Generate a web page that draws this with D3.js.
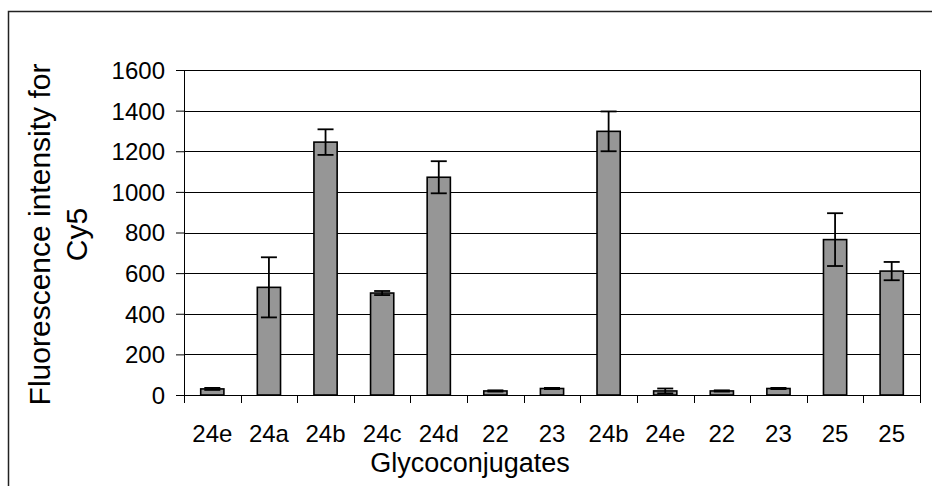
<!DOCTYPE html>
<html>
<head>
<meta charset="utf-8">
<script src="https://cdn.jsdelivr.net/npm/d3@7"></script>
<style>
  body { margin: 0; background: #fff; }
  svg text { font-family: "Liberation Sans", Arial, sans-serif; fill: #000; }
</style>
</head>
<body>
<div id="chart"></div>
<script>
"use strict";

// data
var labels = ["24e", "24a", "24b", "24c", "24d", "22", "23", "24b", "24e", "22", "23", "25", "25"];
var values = [30, 530, 1245, 502, 1072, 20, 32, 1298, 20, 20, 32, 765, 610];
var errors = [5, 148, 63, 10, 79, 3, 3, 98, 12, 3, 3, 130, 45];
var yTicks = [0, 200, 400, 600, 800, 1000, 1200, 1400, 1600];

var W = 932, H = 486;
var margin = { top: 70, right: 12, bottom: 91, left: 184 };
var w = W - margin.left - margin.right,
    h = H - margin.top - margin.bottom;

var svg = d3.select("#chart").append("svg")
    .attr("width", W)
    .attr("height", H);

// outer chart border (runs off right and bottom edge)
svg.append("rect")
    .attr("x", 8.5).attr("y", 11.5)
    .attr("width", W + 10).attr("height", H + 10)
    .attr("fill", "none")
    .attr("stroke", "#222")
    .attr("stroke-width", 1.5);

var g = svg.append("g")
    .attr("transform", "translate(" + margin.left + "," + margin.top + ")");

var idx = d3.range(labels.length);
var x = d3.scaleBand().domain(idx).range([0, w]).padding(0);
var y = d3.scaleLinear().domain([0, 1600]).range([h, 0]);
var barW = x.bandwidth() * 0.41;

// gridlines
g.append("g")
    .selectAll("line").data(yTicks.slice(1))
    .join("line")
      .attr("x1", 0).attr("x2", w)
      .attr("y1", d => Math.round(y(d)) + 0.5)
      .attr("y2", d => Math.round(y(d)) + 0.5)
      .attr("stroke", "#000")
      .attr("stroke-width", 1);

// plot area border
g.append("rect")
    .attr("x", 0.5).attr("y", 0.5)
    .attr("width", w).attr("height", h)
    .attr("fill", "none")
    .attr("stroke", "#000")
    .attr("stroke-width", 1);

// y axis
var yAxis = d3.axisLeft(y).tickValues(yTicks).tickFormat(d3.format("d"))
    .tickSize(8).tickPadding(11);
var ya = g.append("g").attr("class", "yaxis").call(yAxis);
ya.select(".domain").attr("stroke", "#000");
ya.selectAll(".tick line").attr("stroke", "#000");
ya.selectAll(".tick text")
    .style("font-size", "24px")
    .attr("dy", "0.35em");

// bars
g.append("g").selectAll("rect").data(idx)
  .join("rect")
    .attr("x", i => x(i) + (x.bandwidth() - barW) / 2)
    .attr("y", i => y(values[i]))
    .attr("width", barW)
    .attr("height", i => h - y(values[i]))
    .attr("fill", "#969696")
    .attr("stroke", "#000")
    .attr("stroke-width", 1.6);

// error bars
var err = g.append("g").attr("stroke", "#000").attr("stroke-width", 1.8);
idx.forEach(function(i) {
  var cx = x(i) + x.bandwidth() / 2;
  var top = y(values[i] + errors[i]), bot = y(values[i] - errors[i]);
  err.append("line").attr("x1", cx).attr("x2", cx).attr("y1", top).attr("y2", bot);
  err.append("line").attr("x1", cx - 8).attr("x2", cx + 8).attr("y1", top).attr("y2", top);
  err.append("line").attr("x1", cx - 8).attr("x2", cx + 8).attr("y1", bot).attr("y2", bot);
});

// x axis with ticks on category boundaries
g.append("line")
    .attr("x1", 0).attr("x2", w)
    .attr("y1", h + 0.5).attr("y2", h + 0.5)
    .attr("stroke", "#000");
g.append("g").selectAll("line").data(idx.concat([labels.length]))
  .join("line")
    .attr("x1", i => Math.round(i < labels.length ? x(i) : w) + 0.5)
    .attr("x2", i => Math.round(i < labels.length ? x(i) : w) + 0.5)
    .attr("y1", h).attr("y2", h + 8)
    .attr("stroke", "#000");
g.append("g").selectAll("text").data(idx)
  .join("text")
    .attr("x", i => x(i) + x.bandwidth() / 2)
    .attr("y", h + 46.5)
    .attr("text-anchor", "middle")
    .style("font-size", "24px")
    .text(i => labels[i]);

// axis titles
svg.append("text")
    .attr("x", 470)
    .attr("y", 472)
    .attr("text-anchor", "middle")
    .style("font-size", "27px")
    .text("Glycoconjugates");

var yt = svg.append("text")
    .attr("transform", "translate(50,234.5) rotate(-90)")
    .attr("text-anchor", "middle")
    .style("font-size", "30px");
yt.append("tspan").attr("x", 0).attr("y", 0).text("Fluorescence intensity for");
yt.append("tspan").attr("x", 0).attr("y", 37).text("Cy5");
</script>
</body>
</html>
